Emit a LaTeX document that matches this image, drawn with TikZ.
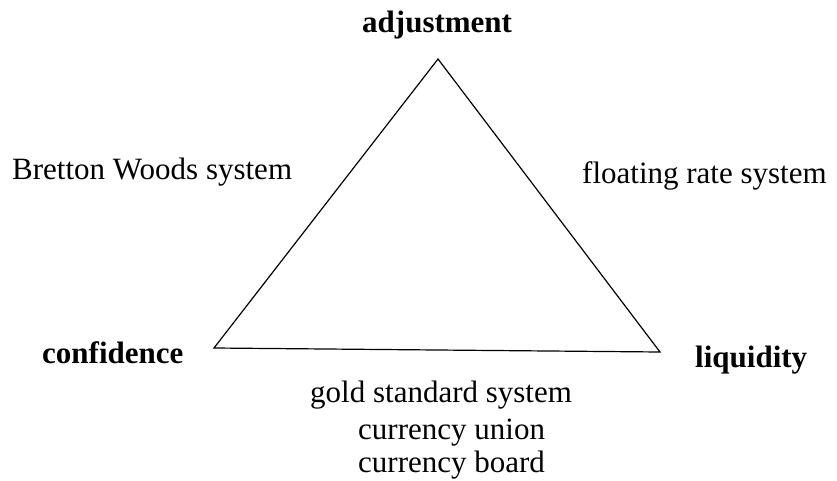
\documentclass[tikz,border=0pt]{standalone}
\usepackage{fontspec}
\setmainfont{Liberation Serif}
\begin{document}
\begin{tikzpicture}[x=1pt,y=1pt,
  lbl/.style={font=\fontsize{31}{37}\selectfont, inner sep=0pt, anchor=base west},
  blbl/.style={font=\fontsize{31}{37}\selectfont\bfseries, inner sep=0pt, anchor=base west},
  edge/.style={line width=1.2pt, line join=miter}]
\useasboundingbox (0,0) rectangle (837,480);
\coordinate (A) at (438,421);
\coordinate (C) at (214,132);
\coordinate (L) at (660,128);
\draw[edge] (A) -- (C) -- (L) -- cycle;
\node[blbl] (adj) at (362,447) {adjustment};
\node[blbl] (conf) at (42,117) {confidence};
\node[blbl] (liq) at (695,113) {liquidity};
\node[lbl] (bw) at (12,301) {Bretton Woods system};
\node[lbl] (fr) at (582,297) {floating rate system};
\node[lbl] (gs) at (310,78) {gold standard system};
\node[lbl] (cu) at (358,41) {currency union};
\node[lbl] (cb) at (358,8) {currency board};
\end{tikzpicture}
\end{document}
